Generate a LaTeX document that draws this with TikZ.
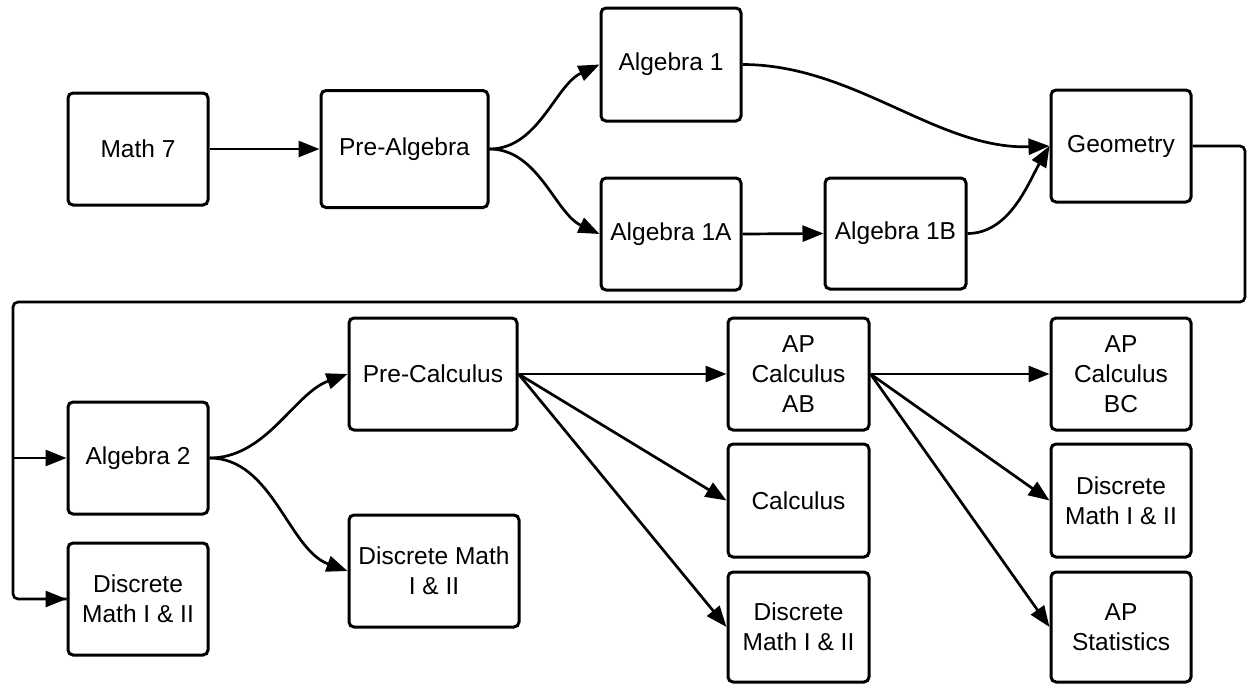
\documentclass[tikz,border=0pt]{standalone}
\usepackage{fontspec}
\setmainfont{Liberation Sans}
\usetikzlibrary{arrows.meta}
\begin{document}
\begin{tikzpicture}[x=1pt,y=-1pt,
  box/.style={draw=black,line width=3pt,rounded corners=5pt,fill=white,
    minimum width=140pt,minimum height=112pt,inner sep=0pt,align=center,
    font=\fontsize{24.5pt}{30pt}\selectfont},
  conn/.style={line width=2.7pt,-{Triangle[length=21pt,width=16pt]}},
  line/.style={line width=2.7pt}]
\useasboundingbox (0,0) rectangle (1247,683);
\node[box,minimum width=167pt,minimum height=117pt] (pa) at (404.5,149) {Pre-Algebra};
\node[box] (m7) at (138,149) {Math 7};
\node[box,minimum height=113pt] (a1) at (671,64.5) {Algebra 1};
\node[box] (a1a) at (671,234) {Algebra 1A};
\node[box,minimum width=141pt,minimum height=111pt] (a1b) at (895.5,233.5) {Algebra 1B};
\node[box] (geo) at (1121,146) {Geometry};
\node[box] (a2) at (138,458) {Algebra 2};
\node[box] (dm1) at (138,599) {Discrete\\Math I \& II};
\node[box,minimum width=168pt] (pc) at (433,374) {Pre-Calculus};
\node[box,minimum width=170pt] (dm2) at (434,571) {Discrete Math\\I \& II};
\node[box,minimum width=141pt] (ab) at (798.5,374) {AP\\Calculus\\AB};
\node[box,minimum width=141pt,minimum height=113pt] (calc) at (798.5,500.5) {Calculus};
\node[box,minimum width=141pt,minimum height=110pt] (dm3) at (798.5,627) {Discrete\\Math I \& II};
\node[box] (bc) at (1121,374) {AP\\Calculus\\BC};
\node[box,minimum height=113pt] (dm4) at (1121,500.5) {Discrete\\Math I \& II};
\node[box,minimum height=110pt] (st) at (1121,627) {AP\\Statistics};

\draw[conn] (m7.east) -- (pa.west);
\draw[conn] (pa.east) to[out=0,in=205,looseness=0.9] (a1.west);
\draw[conn] (pa.east) to[out=0,in=155,looseness=0.9] (a1a.west);
\draw[conn] (a1a.east) -- (a1b.west);
\draw[conn] (a1.east) to[out=0,in=182,looseness=0.9] (geo.west);
\draw[conn] (a1b.east) to[out=0,in=240,looseness=0.9] (geo.west);

\coordinate (r1) at (1245,146);
\coordinate (r2) at (1245,302);
\coordinate (l1) at (13,302);
\coordinate (l2) at (13,458);
\coordinate (l3) at (13,599);
\draw[line,rounded corners=5pt] (geo.east) -- (r1) -- (r2) -- (l1) -- (l3) -- (dm1.west);
\draw[conn] (l2) -- (a2.west);
\draw[conn] (l3) ++(20,0) -- (dm1.west);

\draw[conn] (a2.east) to[out=0,in=200,looseness=0.9] (pc.west);
\draw[conn] (a2.east) to[out=0,in=160,looseness=0.9] (dm2.west);

\draw[conn] (pc.east) -- (ab.west);
\draw[conn] (pc.east) -- (calc.west);
\draw[conn] (pc.east) -- (dm3.west);
\draw[conn] (ab.east) -- (bc.west);
\draw[conn] (ab.east) -- (dm4.west);
\draw[conn] (ab.east) -- (st.west);
\end{tikzpicture}
\end{document}
